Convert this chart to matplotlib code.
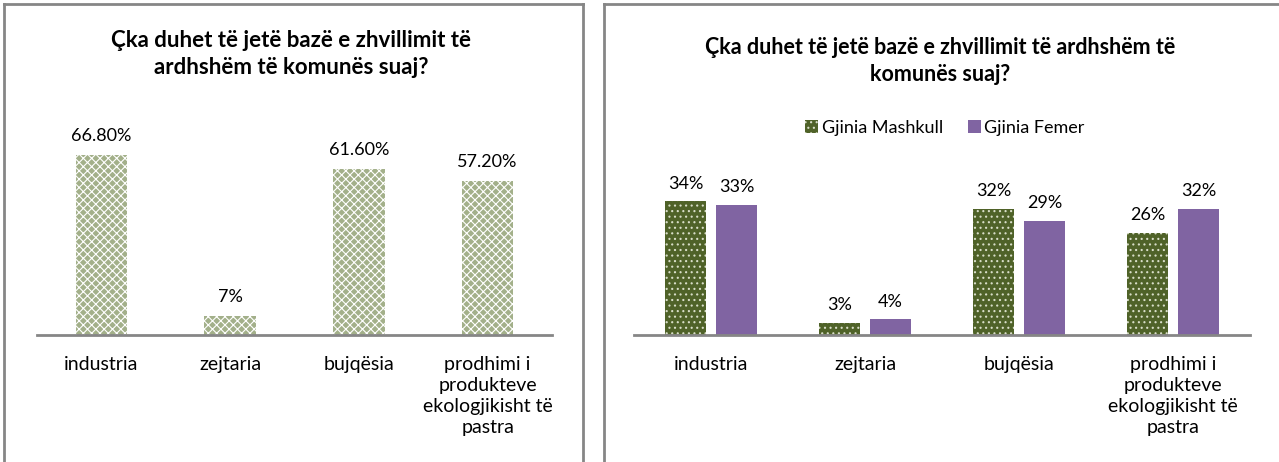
import matplotlib.pyplot as plt
import numpy as np
from matplotlib.lines import Line2D

plt.rcParams['font.family'] = ['Lato', 'DejaVu Sans']
plt.rcParams['hatch.linewidth'] = 0.8

categories = ['industria', 'zejtaria', 'bujqësia',
              'prodhimi i\nprodukteve\nekologjikisht të\npastra']
total = [66.8, 7.0, 61.6, 57.2]
total_labels = ['66.80%', '7%', '61.60%', '57.20%']
male = [34, 3, 32, 26]
female = [33, 4, 29, 32]
series_names = ['Gjinia Mashkull', 'Gjinia Femer']

title_left = 'Çka duhet të jetë bazë e zhvillimit të\nardhshëm të komunës suaj?'
title_right = 'Çka duhet të jetë bazë e zhvillimit të ardhshëm të\nkomunës suaj?'

W, H = 1279, 462
fig = plt.figure(figsize=(W / 100, H / 100), dpi=100)


def px_axes(x0, x1, ytop, ybot):
    return fig.add_axes([x0 / W, 1 - ybot / H, (x1 - x0) / W, (ybot - ytop) / H])


def style(ax):
    for s in ['top', 'right', 'left']:
        ax.spines[s].set_visible(False)
    ax.spines['bottom'].set_color('#868686')
    ax.spines['bottom'].set_linewidth(2)
    ax.set_yticks([])
    ax.tick_params(axis='x', length=0, pad=15, labelsize=14)
    ax.set_xlim(-0.5, 3.5)


x = np.arange(len(categories))

# left panel
ax1 = px_axes(37, 552, 120, 335)
bars = ax1.bar(x, total, width=0.4, color='#A3B08A', edgecolor='white',
               hatch='xxxx', linewidth=0)
ax1.set_ylim(0, 80)
style(ax1)
ax1.set_xticks(x)
ax1.set_xticklabels(categories, linespacing=1.3)
for b, lab in zip(bars, total_labels):
    ax1.annotate(lab, (b.get_x() + b.get_width() / 2, b.get_height()),
                 xytext=(0, 8), textcoords='offset points', ha='center',
                 va='bottom', fontsize=13)

# right panel
ax2 = px_axes(634, 1250, 158, 335)
w = 0.266
b1 = ax2.bar(x - 0.166, male, width=w, color='#4F6228', edgecolor='#D8DDC8',
             hatch='...', linewidth=0, label=series_names[0])
b2 = ax2.bar(x + 0.166, female, width=w, color='#8064A2', linewidth=0,
             label=series_names[1])
ax2.set_ylim(0, 45)
style(ax2)
ax2.set_xticks(x)
ax2.set_xticklabels(categories, linespacing=1.3)
for group in (b1, b2):
    for b in group:
        ax2.annotate(f'{b.get_height():.0f}%', (b.get_x() + b.get_width() / 2, b.get_height()),
                     xytext=(0, 7), textcoords='offset points', ha='center',
                     va='bottom', fontsize=13)

fig.legend(handles=[b1, b2], loc='center', bbox_to_anchor=(945 / W, 1 - 128 / H),
           ncol=2, frameon=False, fontsize=13, handlelength=0.7, handleheight=0.7,
           handletextpad=0.2, columnspacing=1.4)

fig.text(291 / W, 1 - 54 / H, title_left, ha='center', va='center',
         fontsize=16, fontweight='bold', linespacing=1.35)
fig.text(940 / W, 1 - 61 / H, title_right, ha='center', va='center',
         fontsize=15.5, fontweight='bold', linespacing=1.35)

# panel borders
gray = '#868686'
for xs, ys in [([4, 4], [4, 470]), ([4, 583], [4, 4]), ([583, 583], [4, 470]),
               ([604, 604], [4, 470]), ([604, 1290], [4, 4])]:
    fig.add_artist(Line2D([v / W for v in xs], [1 - v / H for v in ys],
                          color=gray, lw=2))

fig.savefig('out.png', dpi=100)
